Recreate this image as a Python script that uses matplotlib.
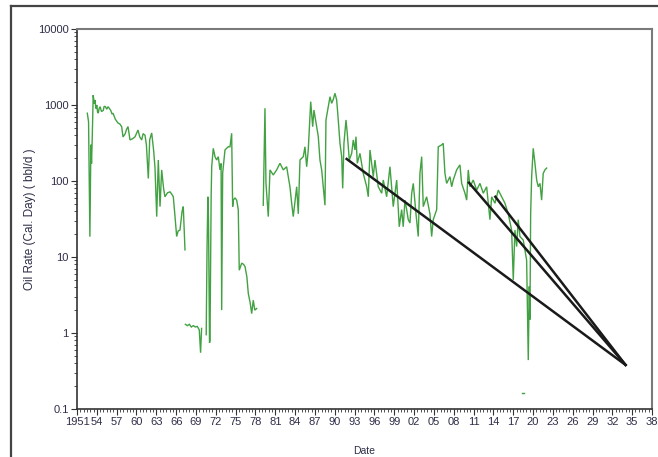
import numpy as np
import matplotlib
matplotlib.use("Agg")
import matplotlib.pyplot as plt
from matplotlib.lines import Line2D
from matplotlib.ticker import FixedLocator, MultipleLocator, LogLocator, NullFormatter

plt.rcParams['font.family'] = ['Liberation Sans', 'DejaVu Sans']

# Oil rate history (calendar-day basis), separate producing periods
years_p1 = [1952.56, 1952.75, 1952.95, 1953.1, 1953.2, 1953.3, 1953.45, 1953.6, 1953.72,
            1953.85, 1954.0, 1954.1, 1954.22, 1954.35, 1954.5, 1954.7, 1954.98, 1955.1,
            1955.3, 1955.5, 1955.69, 1955.9, 1956.1, 1956.3, 1956.45, 1956.8, 1957.2,
            1957.5, 1957.76, 1957.96, 1958.3, 1958.5, 1958.72, 1959.02, 1959.4, 1959.77,
            1960.23, 1960.5, 1960.79, 1961.0, 1961.29, 1961.5, 1961.79, 1962.0, 1962.3,
            1962.6, 1962.8, 1963.06, 1963.3, 1963.56, 1963.81, 1964.1, 1964.31, 1964.7,
            1965.07, 1965.3, 1965.57, 1965.83, 1966.08, 1966.3, 1966.58, 1966.9, 1967.08,
            1967.34]
rates_p1 = [780, 600, 18.5, 300, 170, 350, 1350, 1050, 1165,
            900, 1000, 820, 780, 900, 950, 820, 850, 960,
            950, 880, 950, 900, 850, 760, 780, 650, 580,
            560, 518, 380, 420, 480, 520, 347, 360, 380,
            469, 380, 347, 420, 400, 300, 108, 350, 429,
            250, 150, 34, 189, 46, 140, 80, 62, 70,
            72, 68, 62, 34, 18.6, 22, 22.6, 40, 46,
            12.4]

years_p2 = [1967.4, 1967.7, 1968.0, 1968.3, 1968.6, 1968.9, 1969.2, 1969.5, 1969.7, 1969.85]
rates_p2 = [1.3, 1.25, 1.3, 1.2, 1.25, 1.2, 1.22, 1.1, 0.55, 1.15]

years_p3 = [1970.55, 1970.67, 1970.8, 1970.9, 1971.05, 1971.12, 1971.3, 1971.38, 1971.62,
            1971.88, 1972.13, 1972.38, 1972.63, 1972.8, 1972.89, 1973.04, 1973.39, 1973.65,
            1973.89, 1974.15, 1974.4, 1974.55, 1974.65, 1974.9, 1975.16, 1975.4, 1975.55,
            1975.92, 1976.2, 1976.42, 1976.7, 1976.92, 1977.2, 1977.43, 1977.67, 1977.9,
            1978.19]
rates_p3 = [0.95, 12, 62, 30, 0.74, 0.8, 65, 154, 269,
            209, 189, 209, 140, 170, 2.0, 127, 256, 270,
            282, 282, 425, 46, 56, 60, 56, 42, 6.7,
            8.3, 8.0, 7.5, 5.5, 3.3, 2.5, 1.8, 2.7, 2.0,
            2.1]

years_p4 = [1979.18, 1979.44, 1979.59, 1979.94, 1980.2, 1980.7, 1981.21, 1981.71, 1982.21,
            1982.72, 1983.22, 1983.48, 1983.72, 1984.24, 1984.48, 1984.74, 1985.24, 1985.49,
            1985.75, 1985.99, 1986.36, 1986.66, 1986.85, 1987.26, 1987.51, 1987.76, 1988.02,
            1988.26, 1988.52, 1988.67, 1989.02, 1989.28, 1989.53, 1989.77, 1990.03, 1990.29,
            1990.53, 1990.79, 1991.05, 1991.2, 1991.39, 1991.7, 1991.89, 1992.2, 1992.56,
            1992.8, 1993.06, 1993.21, 1993.41, 1993.81, 1994.31, 1994.83, 1995.07, 1995.33,
            1995.58, 1995.83, 1996.08, 1996.58, 1997.1, 1997.34, 1997.85, 1998.35, 1998.85,
            1999.37, 1999.76, 2000.12, 2000.36, 2000.62, 2000.88, 2001.12, 2001.38, 2001.64,
            2001.88, 2002.29, 2002.63, 2002.89, 2003.15, 2003.39, 2003.9, 2004.4, 2004.66,
            2004.9, 2005.42, 2005.66, 2006.17, 2006.41, 2006.67, 2006.93, 2007.43, 2007.69,
            2007.93, 2008.44, 2008.94, 2009.2, 2009.7, 2009.96, 2010.2, 2010.46, 2010.95,
            2011.47, 2011.97, 2012.47, 2012.98, 2013.48, 2013.74, 2014.24, 2014.74, 2015.25,
            2015.75, 2016.25, 2016.76, 2017.01, 2017.26, 2017.52, 2017.76, 2018.02, 2018.52,
            2019.03, 2019.28, 2019.43, 2019.53, 2019.64, 2019.79, 2020.03, 2020.29, 2020.55,
            2020.79, 2021.05, 2021.3, 2021.54, 2021.8, 2022.06]
rates_p4 = [48, 906, 94, 34, 140, 120, 140, 171, 140,
            154, 84, 51, 34, 84, 37, 189, 209, 282,
            154, 256, 1107, 518, 859, 518, 383, 189, 140,
            84, 48, 635, 950, 1285, 1052, 1180, 1426, 1165,
            635, 313, 209, 80, 313, 635, 425, 189, 231,
            347, 256, 383, 171, 231, 126, 84, 62, 256,
            171, 114, 189, 84, 69, 103, 62, 154, 46,
            103, 25, 42, 25, 56, 42, 31, 28, 69,
            93, 37, 18.6, 126, 209, 46, 62, 37, 18.6,
            31, 42, 282, 298, 313, 126, 93, 114, 84,
            103, 140, 163, 93, 69, 56, 140, 84, 103,
            76, 93, 69, 84, 31, 62, 51, 76, 62,
            51, 37, 22.6, 5.0, 22.6, 13.7, 31, 18.6, 16.7,
            9.1, 0.44, 4.1, 1.5, 37, 114, 269, 171, 103,
            84, 93, 56, 126, 140, 148]

years_p5 = [2018.4, 2018.6]
rates_p5 = [0.16, 0.16]

# Decline forecast lines: start (year, rate) -> common abandonment point
decline_starts_year = [1991.8, 2010.3, 2014.3]
decline_starts_rate = [195, 95, 62]
decline_end_year = 2034.0
decline_end_rate = 0.38

x_tick_years = list(range(1951, 2039, 3))
x_tick_labels = ["1951"] + [f"{y % 100:02d}" for y in x_tick_years[1:]]
y_ticks = [0.1, 1, 10, 100, 1000, 10000]
y_tick_labels = ["0.1", "1", "10", "100", "1000", "10000"]

fig = plt.figure(figsize=(6.58, 4.57), dpi=100)
ax = fig.add_axes([77 / 658, 1 - 409 / 457, (652 - 77) / 658, (409 - 29) / 457])

green = "#138a13"
for yrs, rts in [(years_p1, rates_p1), (years_p2, rates_p2), (years_p3, rates_p3),
                 (years_p4, rates_p4), (years_p5, rates_p5)]:
    ax.plot(yrs, rts, color=green, lw=1.0, alpha=0.8, solid_joinstyle="miter")

for sy, sr in zip(decline_starts_year, decline_starts_rate):
    ax.plot([sy, decline_end_year], [sr, decline_end_rate], color="#1a1a1a", lw=1.8)

ax.set_yscale("log")
ax.set_ylim(0.1, 10000)
ax.set_xlim(1951, 2038)

ax.xaxis.set_major_locator(FixedLocator(x_tick_years))
ax.set_xticklabels(x_tick_labels)
ax.xaxis.set_minor_locator(MultipleLocator(0.5))
ax.yaxis.set_major_locator(FixedLocator(y_ticks))
ax.set_yticklabels(y_tick_labels)
ax.yaxis.set_minor_locator(LogLocator(base=10, subs=np.arange(2, 10)))
ax.yaxis.set_minor_formatter(NullFormatter())

label_color = "#2e2e48"
ax.tick_params(axis="both", which="major", labelsize=8, colors="#333333",
               labelcolor=label_color, length=4, width=0.8, direction="out", pad=2)
ax.tick_params(axis="both", which="minor", length=2.5, width=0.6, colors="#333333")

for side in ["left", "bottom"]:
    ax.spines[side].set_color("#333333")
    ax.spines[side].set_linewidth(1.2)
for side in ["top", "right"]:
    ax.spines[side].set_color("#7a7a7a")
    ax.spines[side].set_linewidth(1.5)

ax.set_ylabel("Oil Rate (Cal. Day) ( bbl/d )", fontsize=8.5, color=label_color)
ax.yaxis.set_label_coords(-0.072, 0.5)
ax.set_xlabel("Date", fontsize=7.5, color=label_color)
ax.xaxis.set_label_coords(0.5, -0.098)

# Outer frame (top and left edges)
fx = 11 / 658
fy = 1 - 6 / 457
fig.add_artist(Line2D([fx, 1.0], [fy, fy], transform=fig.transFigure, color="#444444", lw=1.6))
fig.add_artist(Line2D([fx, fx], [0.0, fy], transform=fig.transFigure, color="#444444", lw=1.6))

fig.savefig("out.png", dpi=100)
